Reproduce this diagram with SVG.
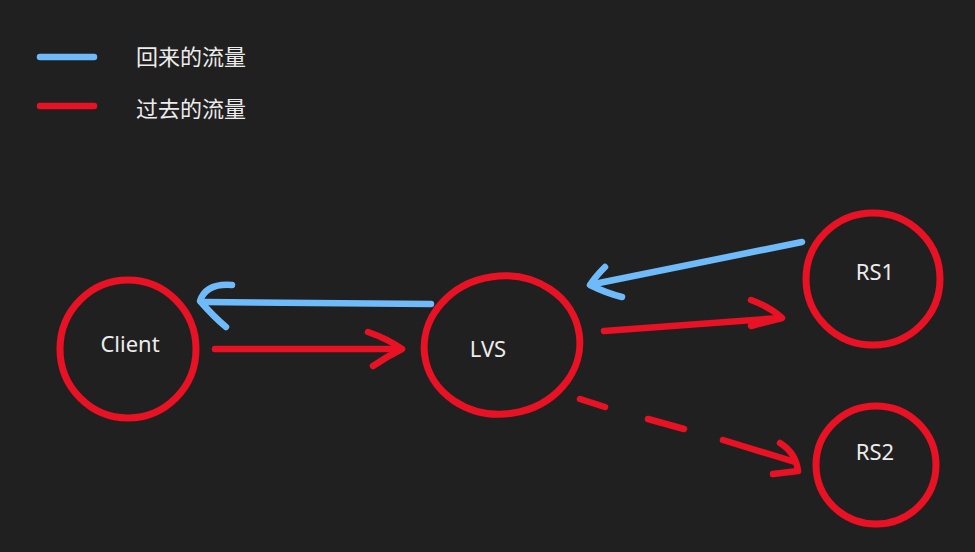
<svg xmlns="http://www.w3.org/2000/svg" width="975" height="552" viewBox="0 0 975 552">
<style>
.bg{fill:#212020}
.node{fill:none;stroke:#e81224;stroke-width:7}
.lbl{fill:#ececec;font-family:"Noto Sans","Open Sans","Liberation Sans",sans-serif;font-size:22px;text-anchor:middle}
.leg{fill:#ececec;font-family:"Noto Sans CJK SC","Noto Sans",sans-serif;font-size:22px}
.red{fill:none;stroke:#e81224;stroke-width:6.5;stroke-linecap:round;stroke-linejoin:round}
.blue{fill:none;stroke:#6fbaf9;stroke-width:6.5;stroke-linecap:round;stroke-linejoin:round}
</style>
<rect class="bg" x="0" y="0" width="975" height="552"/>
<g id="legend">
<line class="blue" x1="40" y1="57" x2="94" y2="57"/>
<text class="leg" x="136" y="65">回来的流量</text>
<line class="red" x1="40" y1="106" x2="94" y2="106"/>
<text class="leg" x="136" y="117">过去的流量</text>
</g>
<g id="connectors">
<path class="blue" d="M 431 304 L 204 302"/>
<path class="blue" d="M 232 285 Q 206 283 200 301 Q 214 317 226 327"/>
<path class="red" d="M 215 349 L 400 349"/>
<path class="red" d="M 368 332 Q 388 339 402 349 Q 386 357 373 366"/>
<path class="blue" d="M 802 242 L 594 284"/>
<path class="blue" d="M 605 267 Q 595 277 590 285 Q 606 293 622 297"/>
<path class="red" d="M 604 331 L 780 318"/>
<path class="red" d="M 751 300 Q 770 307 782 318 Q 766 322 751 326"/>
<path class="red" d="M 580 399 L 605 407 M 648 419 L 684 429 M 723 440 L 795 462"/>
<path class="red" d="M 780 443 Q 796 453 798 471 L 773 474"/>
</g>
<g id="client">
<ellipse class="node" cx="128" cy="349" rx="68" ry="69"/>
<text class="lbl" x="130" y="352">Client</text>
</g>
<g id="lvs">
<ellipse class="node" cx="502" cy="345" rx="78" ry="69" transform="rotate(-8 502 345)"/>
<text class="lbl" x="488" y="357">LVS</text>
</g>
<g id="rs1">
<ellipse class="node" cx="873" cy="279" rx="67" ry="66"/>
<text class="lbl" x="875" y="280">RS1</text>
</g>
<g id="rs2">
<ellipse class="node" cx="876" cy="465" rx="60" ry="59"/>
<text class="lbl" x="875" y="460">RS2</text>
</g>
</svg>
